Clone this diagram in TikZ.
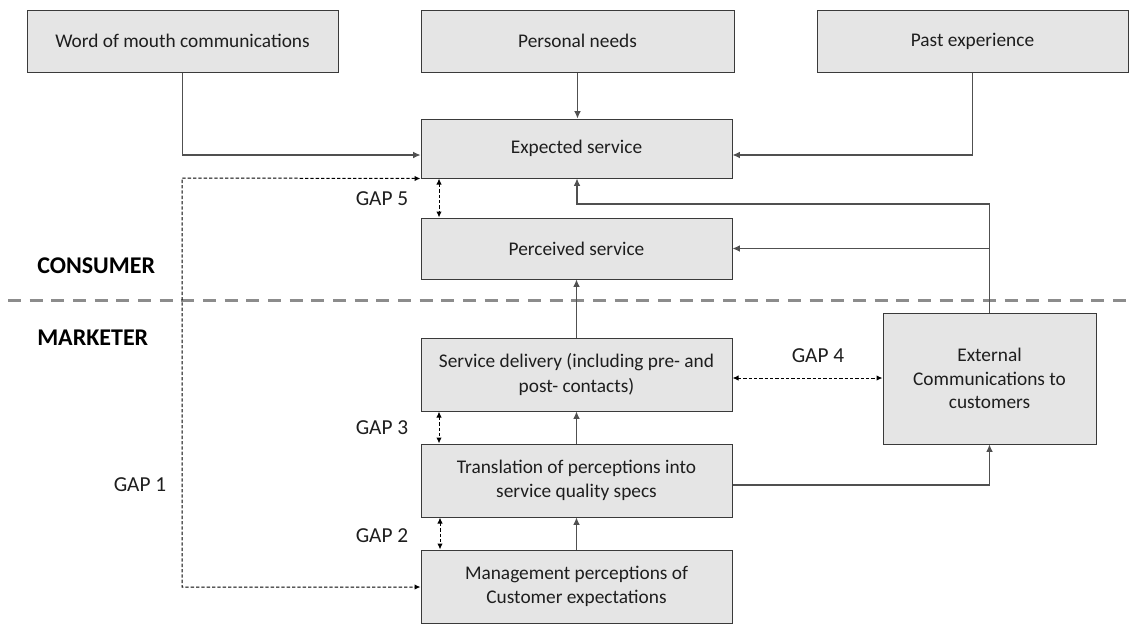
\documentclass[tikz,border=0pt]{standalone}
\usepackage{fontspec}
\setmainfont{Carlito}
\usetikzlibrary{arrows.meta,calc}
\definecolor{boxfill}{HTML}{E5E5E5}
\definecolor{boxline}{HTML}{3A3A3A}
\definecolor{txt}{HTML}{1E1E1E}
\definecolor{wire}{HTML}{505050}
\definecolor{divider}{HTML}{8C8C8C}

\begin{document}
\begin{tikzpicture}[x=0.75pt,y=-0.75pt,
  box/.style={draw=boxline, line width=0.75pt, fill=boxfill, text=txt,
    align=center, inner sep=0pt, font=\fontsize{14.5}{18.5}\selectfont},
  link/.style={draw=wire, line width=0.8pt, -{Latex[length=5.5pt,width=5pt]}},
  gaplink/.style={draw=black, line width=0.75pt, dash pattern=on 2.5pt off 1.5pt,
    {Latex[length=4.5pt,width=4pt]}-{Latex[length=4.5pt,width=4pt]}},
  gaplabel/.style={text=txt, font=\fontsize{16}{19}\selectfont, inner sep=0pt},
  side/.style={text=black, font=\bfseries\fontsize{18}{20}\selectfont,
    inner sep=0pt, anchor=west}]

\useasboundingbox (0,0) rectangle (1131,625);

% consumer / marketer divider
\draw[divider, line width=2.25pt, dash pattern=on 9.75pt off 6.5pt] (8,300) -- (1131,300);
\node[side] (consumer) at (37,266) {CONSUMER};
\node[side] (marketer) at (37,338) {MARKETER};

% top row of influences
\node[box, minimum width=233.25pt, minimum height=46.5pt] (wom) at (182.5,41) {Word of mouth communications};
\node[box, minimum width=234.75pt, minimum height=46.5pt] (pn) at (577.5,41) {Personal needs};
\node[box, minimum width=233.25pt, minimum height=46.5pt] (pe) at (972.5,41) {Past experience};

% central column
\node[box, minimum width=233.25pt, minimum height=44.25pt] (exp) at (576.5,148.5) {Expected service};
\node[box, minimum width=233.25pt, minimum height=45.75pt] (perc) at (576.5,248.5) {Perceived service};
\node[box, minimum width=233.25pt, minimum height=54.75pt] (sd) at (576.5,374.5) {Service delivery (including pre- and\\post- contacts)};
\node[box, minimum width=233.25pt, minimum height=54.75pt] (tr) at (576.5,480.5) {Translation of perceptions into\\service quality specs};
\node[box, minimum width=233.25pt, minimum height=54.75pt] (mg) at (576.5,586.5) {Management perceptions of\\Customer expectations};

% external communications
\node[box, minimum width=159.75pt, minimum height=98.25pt, font=\fontsize{14.5}{17.7}\selectfont] (ext) at (989.5,378.5) {External\\Communications to\\customers};

% solid flows
\draw[link] (wom.south) |- (exp.west |- 0,155);
\draw[link] (pn.south) -- (pn.south |- exp.north);
\draw[link] (pe.south) |- (exp.east |- 0,155);
\draw[link] (sd.north) -- (sd.north |- perc.south);
\draw[link] (tr.north) -- (tr.north |- sd.south);
\draw[link] (mg.north) -- (mg.north |- tr.south);
\draw[link] (tr.east |- 0,485) -| (ext.south);
\coordinate (bend) at (577,204);
\draw[link] (ext.north) |- (bend) -- (bend |- exp.south);
\draw[link] (ext.north |- perc.east) -- (perc.east);

% gaps
\coordinate (g1top) at (182,178);
\coordinate (g1bot) at (182,587);
\draw[gaplink] (exp.south west) -- (g1top) -- (g1bot) -- (mg.west |- g1bot);
\draw[gaplink] (exp.south -| 439,0) -- (perc.north -| 439,0);
\draw[gaplink] (sd.south -| 439,0) -- (tr.north -| 439,0);
\draw[gaplink] (tr.south -| 440,0) -- (mg.north -| 440,0);
\draw[gaplink] (sd.east |- 0,378) -- (ext.west |- 0,378);

\node[gaplabel] (gap1) at (140,485) {GAP 1};
\node[gaplabel] (gap2) at (382,536) {GAP 2};
\node[gaplabel] (gap3) at (382,428) {GAP 3};
\node[gaplabel] (gap4) at (818,356) {GAP 4};
\node[gaplabel] (gap5) at (382,199) {GAP 5};
\end{tikzpicture}
\end{document}
